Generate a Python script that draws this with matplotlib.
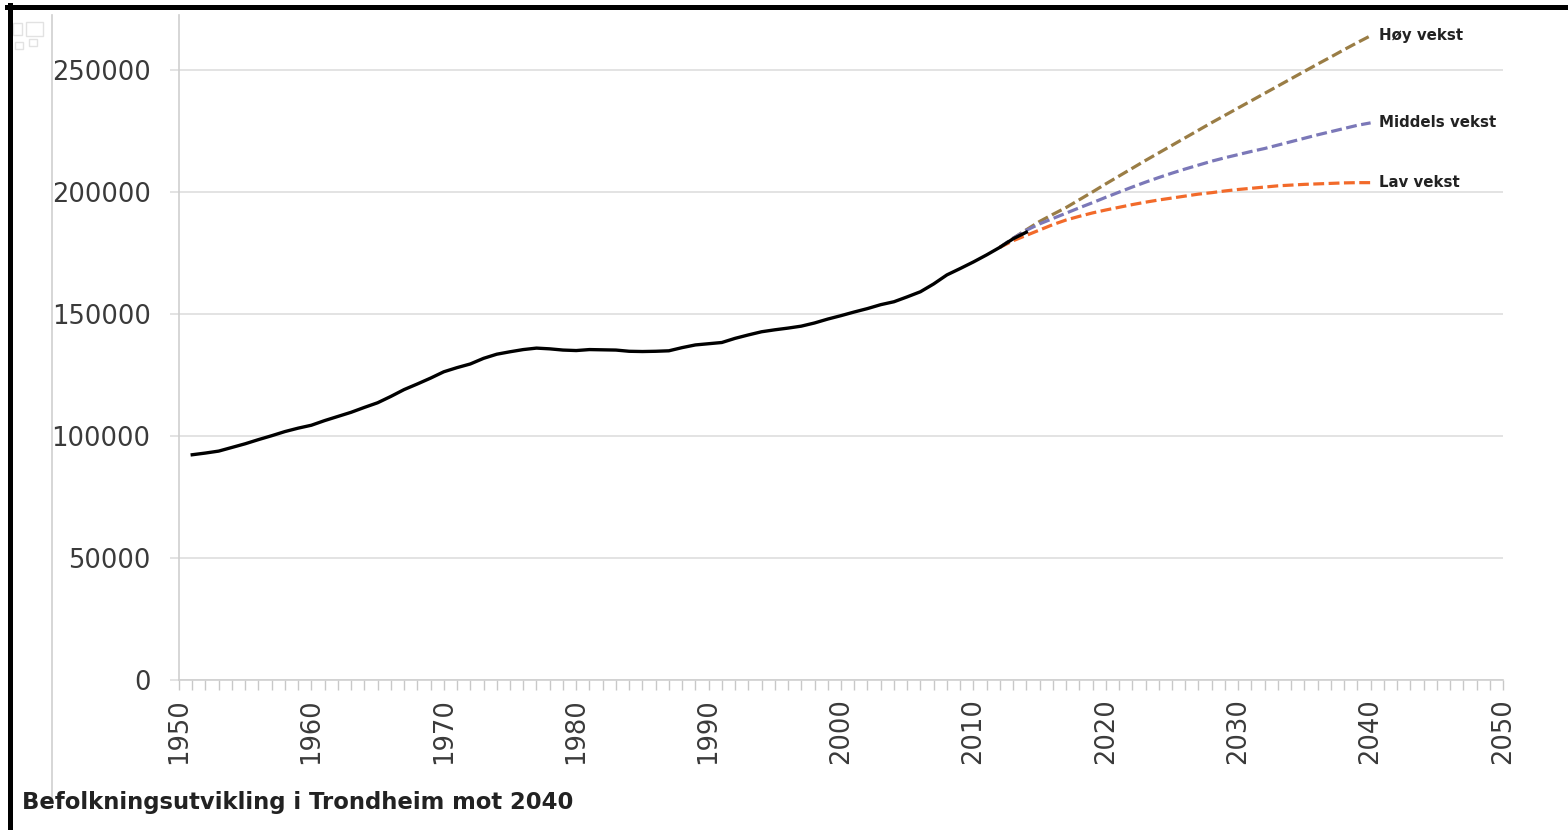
import matplotlib.pyplot as plt
from matplotlib.lines import Line2D
from matplotlib.patches import Rectangle
import numpy as np

# Historisk folketall 1951-2014
hist_years = list(range(1951, 2015))
hist_pop = [92300, 93000, 93800, 95300, 96800, 98500, 100100, 101800, 103200, 104400,
            106300, 108000, 109700, 111700, 113600, 116200, 119000, 121300, 123700, 126300,
            128000, 129500, 131800, 133500, 134500, 135400, 136000, 135700, 135200, 135000,
            135400, 135300, 135200, 134700, 134600, 134700, 134900, 136200, 137300, 137800,
            138300, 140000, 141400, 142700, 143500, 144200, 145000, 146300, 147900, 149300,
            150800, 152200, 153800, 155000, 157000, 159100, 162300, 166000, 168600, 171300,
            174200, 177300, 180800, 183500]

# Framskrivninger 2012-2040
proj_years = list(range(2012, 2041))
hoy = [177300, 181000, 184500, 187900, 190800, 193600, 196800, 200000, 203300, 206500,
       209700, 212900, 216000, 219100, 222200, 225300, 228400, 231400, 234400, 237400,
       240400, 243400, 246400, 249400, 252400, 255300, 258300, 261200, 264000]
middels = [177300, 181000, 184300, 186900, 189100, 191300, 193500, 195600, 197800, 199900,
           202000, 204000, 205900, 207700, 209400, 211000, 212600, 214000, 215300, 216600,
           217800, 219200, 220600, 222000, 223400, 224700, 226000, 227300, 228300]
lav = [177300, 180000, 182200, 184400, 186600, 188500, 190000, 191400, 192600, 193700,
       194800, 195800, 196700, 197500, 198300, 199100, 199700, 200400, 201000, 201500,
       202000, 202500, 202800, 203100, 203300, 203500, 203700, 203800, 203800]

x_ticks = list(range(1950, 2051, 10))
y_ticks = [0, 50000, 100000, 150000, 200000, 250000]

scenarios = [("Høy vekst", hoy, "#9a7d45"),
             ("Middels vekst", middels, "#7b78b8"),
             ("Lav vekst", lav, "#f26a2a")]

W, H = 1568, 830
fig = plt.figure(figsize=(W / 100, H / 100), dpi=100)
ax = fig.add_axes([179 / W, 150 / H, (1503 - 179) / W, (680 - 15) / H])

tick_font = dict(family="DejaVu Sans", size=18.5, color="#3a3a3a")

for name, vals, col in scenarios:
    ax.plot(proj_years, vals, color=col, lw=2.3, dashes=(3.4, 1.4), zorder=2)
ax.plot(hist_years, hist_pop, color="black", lw=2.4, zorder=3)

for name, vals, col in scenarios:
    ax.annotate(name, xy=(proj_years[-1], vals[-1]), xytext=(8, 0),
                textcoords="offset pixels", va="center", ha="left",
                fontsize=10.8, fontweight="bold", color="#222222")

ax.set_xticks(x_ticks)
ax.set_xticks(range(1950, 2051), minor=True)
ax.set_xticklabels([str(v) for v in x_ticks], rotation=90, **tick_font)
ax.set_yticks(y_ticks)
ax.set_yticklabels([str(v) for v in y_ticks], **tick_font)
ax.set_xlim(1950, 2050)
ax.set_ylim(0, 272500)
ax.grid(axis="y", color="#dedede", lw=1.2)
ax.set_axisbelow(True)

for s in ["top", "right"]:
    ax.spines[s].set_visible(False)
for s in ["left", "bottom"]:
    ax.spines[s].set_color("#cfcfcf")
    ax.spines[s].set_linewidth(1.2)

ax.tick_params(axis="y", length=6.5, width=1.2, color="#dedede", pad=14)
ax.tick_params(axis="x", which="both", length=7, width=1, color="#c8c8c8", pad=6)


def fx(x):
    return x / W


def fy(y):
    return 1 - y / H


# ramme og dekor
fig.add_artist(Line2D([fx(52), fx(52)], [fy(15), fy(800)], color="#cfcfcf", lw=1.2))
fig.add_artist(Line2D([fx(7), fx(W)], [fy(7), fy(7)], color="black", lw=3.6))
fig.add_artist(Line2D([fx(9.5), fx(9.5)], [fy(5), fy(H)], color="black", lw=3.6))
for x0, y0, x1, y1 in [(13, 23, 22, 35), (26, 22, 43, 36), (15, 42, 23, 49), (29, 39, 37, 46)]:
    fig.add_artist(Rectangle((fx(x0), fy(y1)), (x1 - x0) / W, (y1 - y0) / H,
                             transform=fig.transFigure, fill=False, ec="#e2e2e2", lw=1))

fig.text(fx(22), fy(802), "Befolkningsutvikling i Trondheim mot 2040",
         fontsize=16.4, fontweight="bold", color="#222222", va="center", ha="left")

fig.savefig("out.png", dpi=100)
